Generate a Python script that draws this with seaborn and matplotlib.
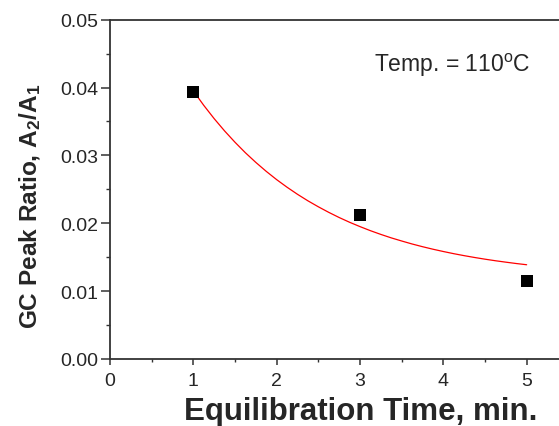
import matplotlib
matplotlib.use("Agg")
import matplotlib.pyplot as plt
import matplotlib.transforms as mtransforms
import seaborn as sns
import pandas as pd
from matplotlib.ticker import MultipleLocator

# measured data
time_min = [1, 3, 5]
peak_ratio = [0.0393, 0.0212, 0.0115]

# fitted curve
fit_time = [1.0, 1.125, 1.25, 1.375, 1.5, 1.625, 1.75, 1.875, 2.0, 2.125, 2.25,
            2.375, 2.5, 2.625, 2.75, 2.875, 3.0, 3.125, 3.25, 3.375, 3.5,
            3.625, 3.75, 3.875, 4.0, 4.125, 4.25, 4.375, 4.5, 4.625, 4.75,
            4.875, 5.0]
fit_ratio = [0.03950, 0.03738, 0.03542, 0.03361, 0.03194, 0.03039, 0.02897,
             0.02765, 0.02643, 0.02531, 0.02427, 0.02331, 0.02243, 0.02161,
             0.02085, 0.02015, 0.01951, 0.01891, 0.01836, 0.01785, 0.01739,
             0.01695, 0.01655, 0.01618, 0.01584, 0.01552, 0.01523, 0.01496,
             0.01471, 0.01448, 0.01427, 0.01407, 0.01389]

x_ticks = [0, 1, 2, 3, 4, 5]
y_ticks = [0.00, 0.01, 0.02, 0.03, 0.04, 0.05]
y_tick_labels = ["0.00", "0.01", "0.02", "0.03", "0.04", "0.05"]

sns.set_style("ticks")
plt.rcParams["font.family"] = ["Liberation Sans", "DejaVu Sans"]
plt.rcParams["mathtext.fontset"] = "custom"
plt.rcParams["mathtext.rm"] = "Liberation Sans"
plt.rcParams["mathtext.it"] = "Liberation Sans"
plt.rcParams["mathtext.bf"] = "Liberation Sans:bold"

pts = pd.DataFrame({"t": time_min, "r": peak_ratio})
fit = pd.DataFrame({"t": fit_time, "r": fit_ratio})

fig = plt.figure(figsize=(5.59, 4.27), dpi=100)
W, H = 559, 427
left_px, bottom_px, top_px = 110, 360, 20.7
px_per_x = 83.33
right_px = left_px + 5.5 * px_per_x
ax = fig.add_axes([left_px / W, 1 - bottom_px / H,
                   (right_px - left_px) / W, (bottom_px - top_px) / H])

sns.lineplot(data=fit, x="t", y="r", ax=ax, color="#ff0000", linewidth=0.9)
sns.scatterplot(data=pts, x="t", y="r", ax=ax, marker="s", s=70,
                color="black", edgecolor="black", linewidth=0, zorder=5)

ax.set_xlim(0, 5.5)
ax.set_ylim(0, 0.05)
ax.set_xticks(x_ticks)
ax.set_xticklabels([str(v) for v in x_ticks])
ax.set_yticks(y_ticks)
ax.set_yticklabels(y_tick_labels)
ax.xaxis.set_minor_locator(MultipleLocator(0.5))
ax.yaxis.set_minor_locator(MultipleLocator(0.005))

for s in ax.spines.values():
    s.set_linewidth(1.3)
    s.set_color("#333333")
ax.spines["right"].set_visible(False)

ax.tick_params(axis="y", which="major", direction="out", length=6.5, width=1.1,
               labelsize=14, pad=2, color="#333333")
ax.tick_params(axis="y", which="minor", direction="out", length=3, width=1.0,
               color="#333333")
ax.tick_params(axis="x", which="major", direction="out", length=4, width=1.1,
               labelsize=14, pad=5.5, color="#333333")
ax.tick_params(axis="x", which="minor", direction="out", length=2.5, width=1.0,
               color="#333333")
ax.tick_params(top=False, right=False, which="both")

ax.set_xlabel("Equilibration Time, min.", fontsize=22.5, fontweight="bold")
ax.xaxis.label.set_va("baseline")
ax.set_ylabel(r"GC Peak Ratio, A$_{\mathbf{2}}$/A$_{\mathbf{1}}$",
              fontsize=17.6, fontweight="bold")
ax.xaxis.set_label_coords((361 - left_px) / (right_px - left_px),
                          (bottom_px - 420) / (bottom_px - top_px))
ax.yaxis.set_label_coords(-0.147, 0.453)

# annotation positioned in pixel coordinates measured from the top-left
pix = mtransforms.Affine2D().scale(1, -1).translate(0, H)
ax.text(374, 72, r"Temp. = 110$^{\mathregular{o}}$C", fontsize=16.5,
        transform=pix, ha="left", va="baseline")

ax.set_facecolor("white")
fig.patch.set_facecolor("white")
fig.savefig("out.png", dpi=100)
